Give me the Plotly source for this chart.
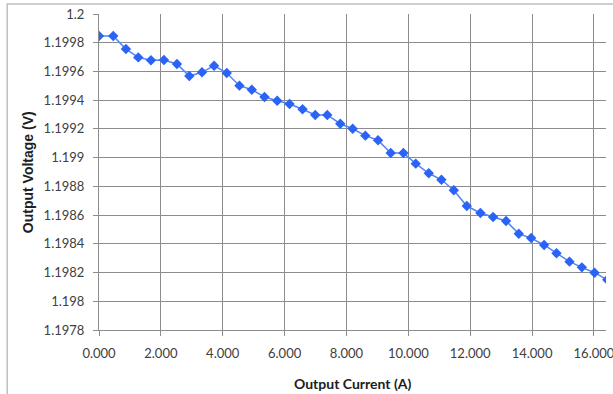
import plotly.graph_objects as go

# Output current (A) and output voltage (V)
current = [0.00, 0.46, 0.87, 1.27, 1.68, 2.10, 2.52, 2.92, 3.33, 3.72,
           4.13, 4.54, 4.94, 5.35, 5.76, 6.16, 6.58, 6.99, 7.38, 7.80,
           8.20, 8.61, 9.02, 9.43, 9.84, 10.24, 10.66, 11.07, 11.47, 11.89,
           12.33, 12.74, 13.16, 13.57, 13.97, 14.39, 14.79, 15.21, 15.61, 16.02,
           16.43]
voltage = [1.199847, 1.199847, 1.199756, 1.199698, 1.199678, 1.199680, 1.199652, 1.199568, 1.199594, 1.199640,
           1.199589, 1.199501, 1.199473, 1.199422, 1.199396, 1.199373, 1.199337, 1.199297, 1.199297, 1.199236,
           1.199201, 1.199153, 1.199121, 1.199032, 1.199032, 1.198958, 1.198891, 1.198846, 1.198773, 1.198663,
           1.198615, 1.198587, 1.198559, 1.198470, 1.198440, 1.198392, 1.198334, 1.198276, 1.198236, 1.198199,
           1.198150]

fig = go.Figure()
fig.add_trace(go.Scatter(
    x=current, y=voltage, mode="lines+markers",
    line=dict(color="#4f86f7", width=1.5),
    marker=dict(symbol="diamond", size=8, color="#2a63f5"),
    showlegend=False,
))

font = "Lato, 'Open Sans', sans-serif"
fig.update_layout(
    width=613, height=394,
    margin=dict(l=99, r=7, t=14, b=64),
    paper_bgcolor="white", plot_bgcolor="white",
    font=dict(family=font, size=13, color="#404040"),
    # light frame of the original chart, cropped on the right and bottom
    shapes=[dict(type="rect", xref="paper", yref="paper",
                 x0=-0.181, x1=1.2, y0=-0.3, y1=1.0316,
                 line=dict(color="#bfbfbf", width=1.5), layer="below")],
    annotations=[
        dict(text="<b>Output Current (A)</b>", xref="paper", yref="paper",
             x=0.5, y=-0.168, showarrow=False, xanchor="center", yanchor="middle",
             font=dict(family=font, size=14, color="#202020")),
        dict(text="<b>Output Voltage (V)</b>", xref="paper", yref="paper",
             x=-0.141, y=0.498, showarrow=False, textangle=-90,
             xanchor="center", yanchor="middle",
             font=dict(family="'Liberation Sans', Arial, sans-serif", size=14, color="#202020")),
    ],
)
fig.update_xaxes(
    range=[0, 16.39], tick0=0, dtick=2, tickformat=".3f",
    showgrid=True, gridcolor="#8c8c8c", gridwidth=1,
    showline=True, linecolor="#8c8c8c", ticks="outside", ticklen=5,
    tickcolor="#8c8c8c", zeroline=False, automargin=False,
    ticklabeloverflow="allow", ticklabelstandoff=6,
)
fig.update_yaxes(
    range=[1.1978, 1.2], tick0=1.1978, dtick=0.0002,
    showgrid=True, gridcolor="#8c8c8c", gridwidth=1,
    showline=True, linecolor="#8c8c8c", ticks="outside", ticklen=5,
    tickcolor="#8c8c8c", zeroline=False, automargin=False,
    ticklabeloverflow="allow", ticklabelstandoff=6,
)

# drop the browser's default 8px page margin so the chart sits at the window corner
fig.write_html("out.html", config={"displayModeBar": False},
               post_script="document.body.style.margin='0';")
